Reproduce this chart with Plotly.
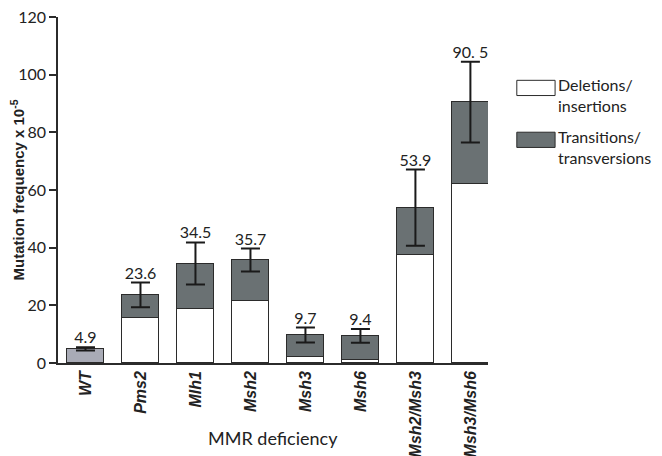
import plotly.graph_objects as go

categories = ["WT", "Pms2", "Mlh1", "Msh2", "Msh3", "Msh6", "Msh2/Msh3", "Msh3/Msh6"]
totals = [4.9, 23.6, 34.5, 35.7, 9.7, 9.4, 53.9, 90.5]
deletions = [None, 15.7, 18.8, 21.6, 2.0, 1.0, 37.3, 62.0]
errors = [0.6, 4.3, 7.3, 4.0, 2.6, 2.4, 13.2, 14.0]
total_labels = ["4.9", "23.6", "34.5", "35.7", "9.7", "9.4", "53.9", "90. 5"]

transitions = [t - (d or 0) for t, d in zip(totals, deletions)]
x = list(range(len(categories)))
top_colors = ["#a9abb6"] + ["#6a7173"] * (len(categories) - 1)

FONT = "Lato"
LINE = "#2b2b2b"

fig = go.Figure()
fig.add_trace(go.Bar(x=x, y=deletions, marker=dict(color="white", line=dict(color=LINE, width=1.3)),
                     width=0.67, name="Deletions/ insertions"))
fig.add_trace(go.Bar(x=x, y=transitions, marker=dict(color=top_colors, line=dict(color=LINE, width=1.3)),
                     width=0.67, name="Transitions/ transversions"))
fig.add_trace(go.Scatter(x=x, y=totals, mode="markers", marker=dict(size=1, opacity=0),
                         error_y=dict(type="data", array=errors, color="#1a1a1a", thickness=2, width=9.5),
                         hoverinfo="skip"))
fig.add_trace(go.Scatter(x=x, y=[t + e for t, e in zip(totals, errors)], mode="text",
                         text=total_labels, textposition="top center",
                         textfont=dict(family=FONT, size=16, color="#222"), hoverinfo="skip"))

# legend drawn manually (large swatches)
legend_items = [("white", "Deletions/<br>insertions", 0.795), ("#6a7173", "Transitions/<br>transversions", 0.645)]
for color, label, yy in legend_items:
    fig.add_shape(type="rect", xref="paper", yref="paper", x0=1.067, x1=1.156, y0=yy - 0.022, y1=yy + 0.022,
                  fillcolor=color, line=dict(color=LINE, width=1))
    fig.add_annotation(xref="paper", yref="paper", x=1.158, y=yy + 0.042, xanchor="left", yanchor="top",
                       text=label, showarrow=False, align="left",
                       font=dict(family=FONT, size=16, color="#222"))

# x-axis title
fig.add_annotation(xref="paper", yref="paper", x=0.5, y=-0.217, xanchor="center", yanchor="middle",
                   text="MMR deficiency", showarrow=False, font=dict(family=FONT, size=18, color="#222"))

# page body has an 8px margin, so the plot area is offset accordingly
fig.update_layout(
    width=662, height=456,
    margin=dict(l=50, r=182, t=9, b=101),
    barmode="stack", bargap=0,
    showlegend=False,
    plot_bgcolor="white", paper_bgcolor="white",
    font=dict(family=FONT, color="#222"),
)
fig.update_xaxes(
    range=[-0.5, 7.32], tickvals=x, automargin=False, ticklabeloverflow="allow",
    ticktext=["<b><i>%s</i></b>" % c for c in categories],
    tickangle=-90, tickfont=dict(family="Liberation Sans", size=16, color="#222"),
    showline=True, linecolor=LINE, linewidth=1.5, ticks="", showgrid=False, zeroline=False,
)
fig.update_yaxes(
    range=[0, 120], dtick=20, ticks="outside", ticklen=7, tickcolor=LINE, tickwidth=1.5, automargin=False,
    ticklabeloverflow="allow",
    showline=True, linecolor=LINE, linewidth=1.5, showgrid=False, zeroline=False,
    tickfont=dict(family=FONT, size=16, color="#222"),
    title=dict(text="<b>Mutation frequency x 10<sup>-5</sup></b>", font=dict(family="Liberation Sans", size=15, color="#222"), standoff=4),
)

fig.write_html("out.html")
